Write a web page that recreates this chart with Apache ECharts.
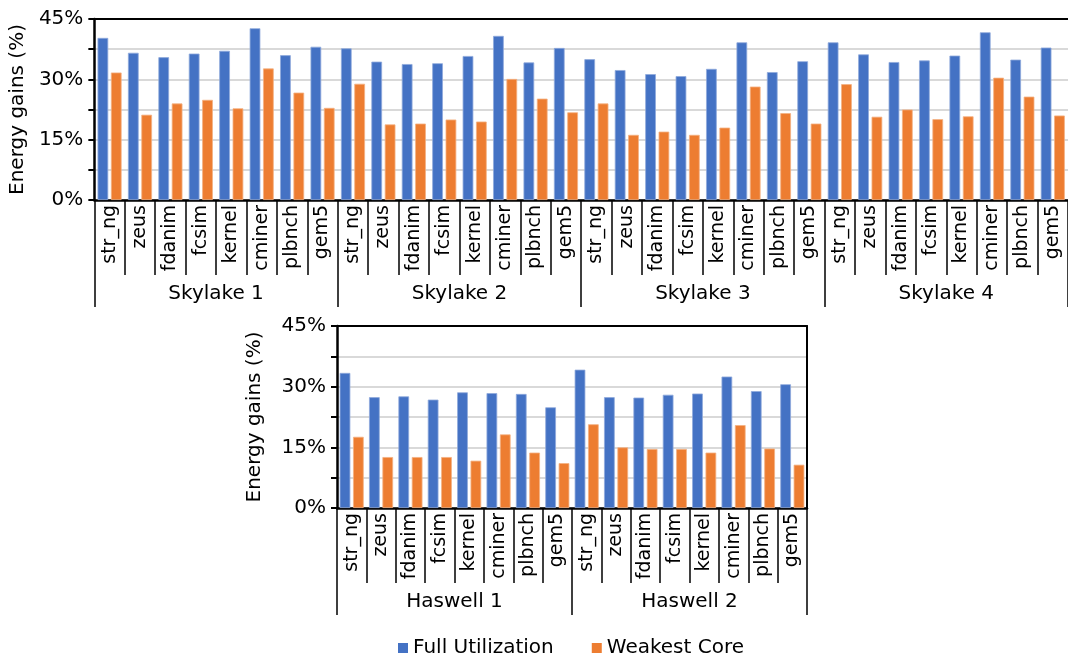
<!DOCTYPE html>
<html>
<head>
<meta charset="utf-8">
<script src="https://cdn.jsdelivr.net/npm/echarts@6/dist/echarts.min.js"></script>
<style>
html,body{margin:0;padding:0;background:#fff;overflow:hidden;}
#chart{width:1068px;height:657px;}
</style>
</head>
<body>
<div id="chart"></div>
<script>
const benchmarks = ['str_ng','zeus','fdanim','fcsim','kernel','cminer','plbnch','gem5'];
const skylakeGroups = ['Skylake 1','Skylake 2','Skylake 3','Skylake 4'];
const haswellGroups = ['Haswell 1','Haswell 2'];
const yTicks = [0, 7.5, 15, 22.5, 30, 37.5, 45];

const skylake1Full = [40.3, 36.6, 35.5, 36.4, 37.1, 42.7, 36.0, 38.1];
const skylake1Weak = [31.7, 21.2, 24.0, 24.9, 22.8, 32.7, 26.7, 22.9];
const skylake2Full = [37.7, 34.4, 33.8, 34.0, 35.8, 40.8, 34.2, 37.8];
const skylake2Weak = [28.9, 18.8, 19.0, 20.0, 19.5, 30.1, 25.2, 21.8];
const skylake3Full = [35.0, 32.3, 31.3, 30.8, 32.6, 39.2, 31.8, 34.5];
const skylake3Weak = [24.0, 16.2, 17.0, 16.2, 18.0, 28.2, 21.6, 19.0];
const skylake4Full = [39.2, 36.2, 34.3, 34.7, 35.9, 41.7, 34.9, 37.9];
const skylake4Weak = [28.8, 20.7, 22.5, 20.1, 20.8, 30.4, 25.7, 21.0];
const haswell1Full = [33.4, 27.4, 27.6, 26.8, 28.6, 28.4, 28.2, 24.9];
const haswell1Weak = [17.6, 12.6, 12.6, 12.6, 11.7, 18.2, 13.7, 11.1];
const haswell2Full = [34.2, 27.4, 27.3, 28.0, 28.3, 32.5, 28.9, 30.6];
const haswell2Weak = [20.7, 15.0, 14.6, 14.6, 13.7, 20.5, 14.7, 10.7];

const FONT = 'DejaVu Sans';
const BLUE = '#4472C4', ORANGE = '#ED7D31';
const BLUE_EDGE = '#8FAADC', ORANGE_EDGE = '#F4B183';

const topCats = [].concat(benchmarks, benchmarks, benchmarks, benchmarks);
const botCats = [].concat(benchmarks, benchmarks);

function catAxis(grid, data) {
  return {
    type: 'category', gridIndex: grid, position: 'bottom', data: data,
    axisLine: {show: true, lineStyle: {color: '#000', width: 2.5}},
    axisTick: {show: true, interval: 0, length: 75, lineStyle: {color: '#000', width: 1.5}},
    axisLabel: {interval: 0, rotate: 90, margin: 5, fontSize: 19, fontFamily: FONT, color: '#000'},
    splitLine: {show: false}
  };
}
function groupAxis(grid, data) {
  return {
    type: 'category', gridIndex: grid, position: 'bottom', offset: 0, data: data,
    axisLine: {show: false},
    axisTick: {show: true, interval: 0, length: 107, lineStyle: {color: '#000', width: 1.5}},
    axisLabel: {interval: 0, margin: 84, fontSize: 20, fontFamily: FONT, color: '#000'},
    splitLine: {show: false}
  };
}
function borderX(grid) {
  return {
    type: 'category', gridIndex: grid, position: 'top', data: [''], z: 10,
    axisLine: {show: true, lineStyle: {color: '#000', width: 2}},
    axisTick: {show: false}, axisLabel: {show: false}, splitLine: {show: false}
  };
}
function valAxis(grid, gap) {
  return {
    type: 'value', gridIndex: grid, min: yTicks[0], max: yTicks[yTicks.length - 1], interval: yTicks[1] - yTicks[0],
    name: 'Energy gains (%)', nameLocation: 'middle', nameGap: gap,
    nameTextStyle: {fontSize: 20, fontFamily: FONT, color: '#000'},
    axisLine: {show: true, lineStyle: {color: '#000', width: 2.5}},
    axisTick: {show: true, length: 6, lineStyle: {color: '#000', width: 2}},
    axisLabel: {fontSize: 20, fontFamily: FONT, color: '#000', margin: 11,
      formatter: v => (Math.abs(v % 15) < 1e-9 ? v + '%' : '')},
    splitLine: {show: true, lineStyle: {color: '#d9d9d9', width: 2}}
  };
}
function barSeries(name, xi, yi, color, edge, data) {
  return {name: name, type: 'bar', xAxisIndex: xi, yAxisIndex: yi, barWidth: 10.7, barGap: '25%',
    itemStyle: {color: color, borderColor: edge, borderWidth: 0.8}, data: data};
}

const option = {
  animation: false,
  backgroundColor: '#fff',
  textStyle: {fontFamily: FONT},
  grid: [
    {left: 94, top: 19, width: 982, height: 181},
    {left: 337, top: 326, width: 470, height: 182}
  ],
  legend: {
    data: ['Full Utilization', 'Weakest Core'],
    left: 393, top: 633, icon: 'rect', itemWidth: 10, itemHeight: 10, itemGap: 38,
    itemStyle: {borderWidth: 0},
    textStyle: {fontSize: 20, fontFamily: FONT, color: '#000'}
  },
  xAxis: [
    catAxis(0, topCats), groupAxis(0, skylakeGroups), borderX(0),
    catAxis(1, botCats), groupAxis(1, haswellGroups), borderX(1)
  ],
  yAxis: [
    valAxis(0, 57), valAxis(1, 72),
    {type: 'value', gridIndex: 1, position: 'right', min: 0, max: 1, z: 10,
     axisLine: {show: true, lineStyle: {color: '#000', width: 2}},
     axisTick: {show: false}, axisLabel: {show: false}, splitLine: {show: false}}
  ],
  series: [
    barSeries('Full Utilization', 0, 0, BLUE, BLUE_EDGE,
      [].concat(skylake1Full, skylake2Full, skylake3Full, skylake4Full)),
    barSeries('Weakest Core', 0, 0, ORANGE, ORANGE_EDGE,
      [].concat(skylake1Weak, skylake2Weak, skylake3Weak, skylake4Weak)),
    barSeries('Full Utilization', 3, 1, BLUE, BLUE_EDGE,
      [].concat(haswell1Full, haswell2Full)),
    barSeries('Weakest Core', 3, 1, ORANGE, ORANGE_EDGE,
      [].concat(haswell1Weak, haswell2Weak))
  ]
};

const chart = echarts.init(document.getElementById('chart'), null, {renderer: 'canvas'});
chart.setOption(option);
</script>
</body>
</html>
